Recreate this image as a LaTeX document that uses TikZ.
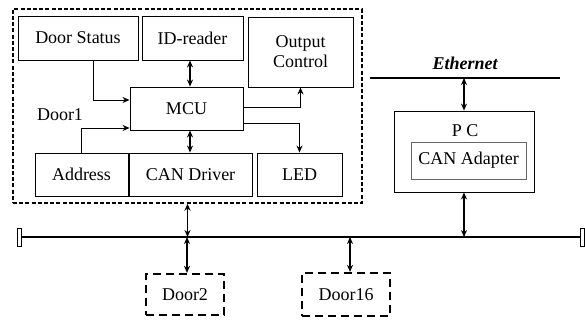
\documentclass[tikz,border=0pt]{standalone}
\usepackage{fontspec}
\setmainfont{Liberation Serif}
\newfontfamily\timesface{Liberation Serif}
\usetikzlibrary{arrows.meta}
\begin{document}
\begin{tikzpicture}[x=1pt,y=-1pt,
  font=\timesface\fontsize{18}{20}\selectfont,
  box/.style={draw,line width=0.9pt,inner sep=0pt,align=center},
  doorbox/.style={draw,dash pattern=on 4pt off 2.2pt,line width=1.4pt,inner sep=0pt},
  subdoor/.style={draw,dash pattern=on 8pt off 5pt,line width=2.2pt,inner sep=0pt},
  endcap/.style={draw,line width=0.9pt,minimum width=4pt,minimum height=18pt,inner sep=0pt},
  bus/.style={line width=1.6pt},
  biarrow/.style={line width=1.2pt,{Stealth[length=7pt,width=6pt]}-{Stealth[length=7pt,width=6pt]}},
  uniarrow/.style={line width=0.9pt,-{Stealth[length=7pt,width=6pt]}}]
\useasboundingbox (0,0) rectangle (585,321);

% Door1 controller
\node[doorbox,minimum width=349pt,minimum height=194pt] (door1) at (187.5,106) {};
\node[box,minimum width=120pt,minimum height=44pt] (status) at (78,38) {Door Status};
\node[box,minimum width=101pt,minimum height=44pt] (idr) at (192.5,38) {ID-reader};
\node[box,minimum width=105pt,minimum height=70pt] (outc) at (300.5,52) {Output\\Control};
\node[box,minimum width=113pt,minimum height=43pt] (mcu) at (186.5,108.5) {MCU};
\node[box,minimum width=93pt,minimum height=43pt] (addr) at (81.5,174.5) {Address};
\node[box,minimum width=123pt,minimum height=43pt] (cand) at (190.5,174.5) {CAN Driver};
\node[box,minimum width=85pt,minimum height=43pt] (led) at (299.5,174.5) {LED};
\node (d1lbl) at (60,115) {Door1};

\draw[uniarrow] ([xshift=15pt]status.south) |- ([yshift=8.5pt]mcu.west);
\draw[uniarrow] (addr.north) |- ([yshift=-19.5pt]mcu.west);
\draw[biarrow] ([xshift=-2.5pt]idr.south) -- ([xshift=-2.5pt]idr.south |- mcu.north);
\draw[biarrow] ([xshift=3.5pt]mcu.south) -- ([xshift=3.5pt]mcu.south |- cand.north);
\draw[uniarrow] ([yshift=1.5pt]mcu.east) -| (outc.south);
\draw[uniarrow] ([yshift=-14.5pt]mcu.east) -| (led.north);

% CAN bus
\node[endcap] (lcap) at (19.5,237) {};
\node[endcap] (rcap) at (582,237) {};
\draw[bus] (lcap.east) -- (rcap.west);

% remote doors
\node[subdoor,minimum width=78pt,minimum height=41pt] (door2) at (185,294.5) {Door2};
\node[subdoor,minimum width=88pt,minimum height=43pt] (door16) at (346,294.5) {Door16};

\draw[biarrow] (door1.south) -- (door1.south |- lcap.center);
\draw[biarrow] ([xshift=2pt]door2.north |- lcap.center) -- ([xshift=2pt]door2.north);
\draw[biarrow] ([xshift=4pt]door16.north |- lcap.center) -- ([xshift=4pt]door16.north);

% PC with CAN adapter
\coordinate (ethL) at (370,78);
\coordinate (ethR) at (560,78);
\draw[bus,line width=1.2pt] (ethL) -- (ethR);
\node[font=\timesface\fontsize{18}{20}\selectfont\bfseries\itshape] (ethlbl) at (465,63) {Ethernet};
\node[box,minimum width=140pt,minimum height=81pt] (pc) at (464,151.5) {};
\node (pclbl) at (465,131) {P C};
\node[box,draw=black!60,minimum width=115pt,minimum height=37pt] (cana) at (468.5,160.5) {CAN Adapter};

\draw[biarrow] (pc.north |- ethL) -- (pc.north);
\draw[biarrow] (pc.south) -- (pc.south |- lcap.center);
\end{tikzpicture}
\end{document}
